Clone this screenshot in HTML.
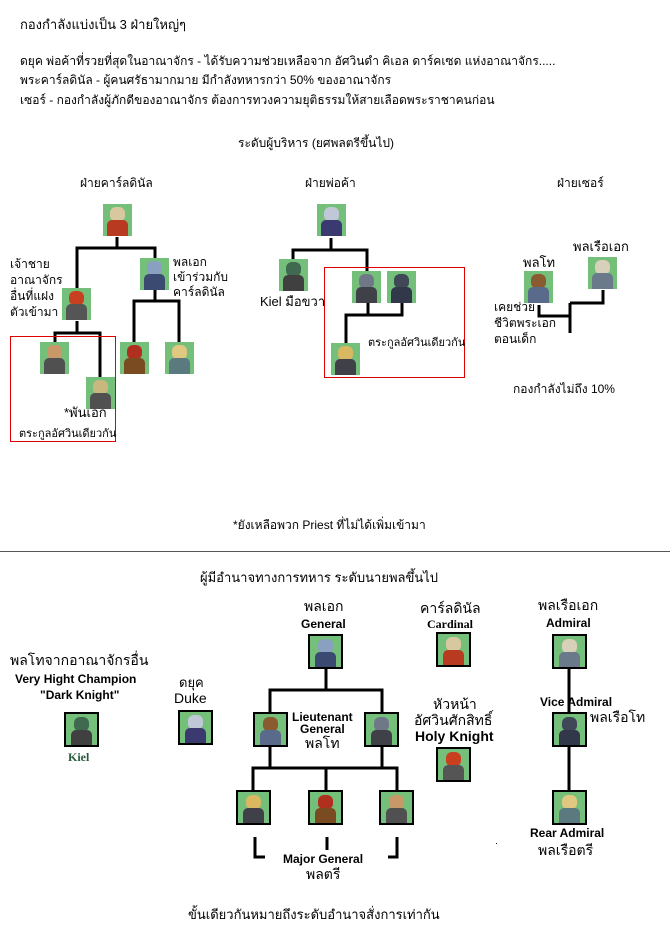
<!DOCTYPE html>
<html><head><meta charset="utf-8">
<style>
body{margin:0;width:670px;height:931px;background:#fff;position:relative;overflow:hidden;font-family:"Liberation Sans","DejaVu Sans",sans-serif;color:#000}
.t{position:absolute;white-space:nowrap;font-size:12px;line-height:15px}
.b{font-weight:bold}
.s{position:absolute;width:29px;height:32px;background:#74c07a;overflow:hidden}
.s:before{content:"";position:absolute;left:7px;top:3px;width:15px;height:14px;border-radius:6px 6px 5px 5px;background:var(--h,#c9a060)}
.s:after{content:"";position:absolute;left:4px;top:16px;width:21px;height:16px;border-radius:5px 5px 0 0;background:var(--c,#555)}
.f{width:31px;height:31px;border:2px solid #000}
.f:before{left:8px;top:3px}.f:after{left:5px;top:16px}
svg{position:absolute;left:0;top:0}
</style></head><body>
<svg width="670" height="931">
<g stroke="#000" stroke-width="3" fill="none">
<path d="M117 237V248M77 291V248H155V258M155 290V301M134 342V301H179V342M77 321V333M55 342V333H100V378"/>
<path d="M331 238V250M293 259V250H367V271M368 303V315M402 303V315H346V343"/>
<path d="M539 305V316H570M570 303V333M570 303H603V290"/>
<path d="M326 669V690M270 712V690H382V712M270 747V768M382 747V768M253 790V768H397V790M326 768V790M569 669V712M569 747V790"/>
<path d="M255 837V857H265M327 837V850M397 837V857H388"/>
</g>
<rect x="10.5" y="336.5" width="105" height="105" fill="none" stroke="#e00000" stroke-width="1"/>
<rect x="324.5" y="267.5" width="140" height="110" fill="none" stroke="#e00000" stroke-width="1"/>
<line x1="0" y1="551.5" x2="670" y2="551.5" stroke="#555" stroke-width="1"/>
<rect x="496" y="843" width="1" height="1" fill="#000"/>
</svg>

<div class="t" style="left:20px;top:17px;font-size:13px">กองกำลังแบ่งเป็น 3 ฝ่ายใหญ่ๆ</div>
<div class="t" style="left:20px;top:54px">ดยุค พ่อค้าที่รวยที่สุดในอาณาจักร -  ได้รับความช่วยเหลือจาก อัศวินดำ คิเอล ดาร์คเซด แห่งอาณาจักร.....</div>
<div class="t" style="left:20px;top:73px">พระคาร์ลดินัล -  ผู้คนศรัธามากมาย มีกำลังทหารกว่า 50% ของอาณาจักร</div>
<div class="t" style="left:20px;top:93px">เซอร์ -  กองกำลังผู้ภักดีของอาณาจักร ต้องการทวงความยุติธรรมให้สายเลือดพระราชาคนก่อน</div>
<div class="t" style="left:238px;top:136px">ระดับผู้บริหาร (ยศพลตรีขึ้นไป)</div>
<div class="t" style="left:80px;top:176px">ฝ่ายคาร์ลดินัล</div>
<div class="t" style="left:305px;top:176px">ฝ่ายพ่อค้า</div>
<div class="t" style="left:557px;top:176px">ฝ่ายเซอร์</div>

<div class="s" style="left:103px;top:204px;--h:#d8c8a0;--c:#b83a20"></div>
<div class="t" style="left:10px;top:256px;font-size:12px;line-height:16px">เจ้าชาย<br>อาณาจักร<br>อื่นที่แฝง<br>ตัวเข้ามา</div>
<div class="s" style="left:62px;top:288px;--h:#c84020;--c:#555"></div>
<div class="s" style="left:140px;top:258px;--h:#8aa0c0;--c:#3a4a70"></div>
<div class="t" style="left:173px;top:255px;font-size:12px;line-height:15px">พลเอก<br>เข้าร่วมกับ<br>คาร์ลดินัล</div>
<div class="s" style="left:120px;top:342px;--h:#b03020;--c:#7a4a20"></div>
<div class="s" style="left:165px;top:342px;--h:#e0c880;--c:#5a7a80"></div>
<div class="s" style="left:40px;top:342px;--h:#c89868;--c:#505050"></div>
<div class="s" style="left:86px;top:377px;--h:#c8b880;--c:#505050"></div>
<div class="t" style="left:64px;top:405px;font-size:13px">*พันเอก</div>
<div class="t" style="left:19px;top:427px;font-size:11px">ตระกูลอัศวินเดียวกัน</div>

<div class="s" style="left:317px;top:204px;--h:#c0c8d8;--c:#3a3a70"></div>
<div class="s" style="left:279px;top:259px;--h:#406a50;--c:#404040"></div>
<div class="t" style="left:260px;top:294px;font-size:13px">Kiel มือขวา</div>
<div class="s" style="left:352px;top:271px;--h:#707888;--c:#404048"></div>
<div class="s" style="left:387px;top:271px;--h:#404858;--c:#30384a"></div>
<div class="s" style="left:331px;top:343px;--h:#d8b860;--c:#404048"></div>
<div class="t" style="left:368px;top:336px;font-size:11px">ตระกูลอัศวินเดียวกัน</div>

<div class="t" style="left:523px;top:255px;font-size:13px">พลโท</div>
<div class="s" style="left:524px;top:271px;--h:#8a5a30;--c:#5a6a8a"></div>
<div class="t" style="left:573px;top:239px;font-size:13px">พลเรือเอก</div>
<div class="s" style="left:588px;top:257px;--h:#d8d0b8;--c:#6a7a8a"></div>
<div class="t" style="left:494px;top:299px;font-size:12px;line-height:16px">เคยช่วย<br>ชีวิตพระเอก<br>ตอนเด็ก</div>
<div class="t" style="left:513px;top:382px">กองกำลังไม่ถึง 10%</div>

<div class="t" style="left:233px;top:518px">*ยังเหลือพวก Priest ที่ไม่ได้เพิ่มเข้ามา</div>
<div class="t" style="left:200px;top:570px;font-size:13px">ผู้มีอำนาจทางการทหาร ระดับนายพลขึ้นไป</div>

<div class="t" style="left:10px;top:653px;font-size:14px">พลโทจากอาณาจักรอื่น</div>
<div class="t b" style="left:15px;top:672px">Very Hight Champion</div>
<div class="t b" style="left:40px;top:688px">"Dark Knight"</div>
<div class="s f" style="left:64px;top:712px;--h:#406a50;--c:#404040"></div>
<div class="t b" style="left:68px;top:750px;font-family:'Liberation Serif',serif;color:#2a5a3a;font-size:12px">Kiel</div>
<div class="t" style="left:179px;top:675px;font-size:13px">ดยุค</div>
<div class="t" style="left:174px;top:691px;font-size:14px">Duke</div>
<div class="s f" style="left:178px;top:710px;--h:#c0c8d8;--c:#3a3a70"></div>

<div class="t" style="left:304px;top:599px;font-size:14px">พลเอก</div>
<div class="t b" style="left:301px;top:617px">General</div>
<div class="s f" style="left:308px;top:634px;--h:#8aa0c0;--c:#3a4a70"></div>
<div class="s f" style="left:253px;top:712px;--h:#8a5a30;--c:#5a6a8a"></div>
<div class="s f" style="left:364px;top:712px;--h:#707888;--c:#404048"></div>
<div class="t b" style="left:292px;top:710px">Lieutenant</div>
<div class="t b" style="left:300px;top:722px">General</div>
<div class="t" style="left:305px;top:736px;font-size:14px">พลโท</div>
<div class="s f" style="left:236px;top:790px;--h:#d8b860;--c:#404048"></div>
<div class="s f" style="left:308px;top:790px;--h:#b03020;--c:#7a4a20"></div>
<div class="s f" style="left:379px;top:790px;--h:#c89868;--c:#505050"></div>
<div class="t b" style="left:283px;top:852px">Major General</div>
<div class="t" style="left:306px;top:867px;font-size:14px">พลตรี</div>

<div class="t" style="left:420px;top:601px;font-size:14px">คาร์ลดินัล</div>
<div class="t b" style="left:427px;top:617px;font-family:'Liberation Serif',serif">Cardinal</div>
<div class="s f" style="left:436px;top:632px;--h:#d8c8a0;--c:#b83a20"></div>
<div class="t" style="left:433px;top:697px;font-size:14px">หัวหน้า</div>
<div class="t" style="left:414px;top:713px;font-size:14px">อัศวินศักสิทธิ์</div>
<div class="t b" style="left:415px;top:729px;font-size:14px">Holy Knight</div>
<div class="s f" style="left:436px;top:747px;--h:#c84020;--c:#555"></div>

<div class="t" style="left:538px;top:598px;font-size:14px">พลเรือเอก</div>
<div class="t b" style="left:546px;top:616px">Admiral</div>
<div class="s f" style="left:552px;top:634px;--h:#d8d0b8;--c:#6a7a8a"></div>
<div class="t b" style="left:540px;top:695px">Vice Admiral</div>
<div class="s f" style="left:552px;top:712px;--h:#404858;--c:#30384a"></div>
<div class="t" style="left:590px;top:710px;font-size:14px">พลเรือโท</div>
<div class="s f" style="left:552px;top:790px;--h:#e0c880;--c:#5a7a80"></div>
<div class="t b" style="left:530px;top:826px">Rear Admiral</div>
<div class="t" style="left:538px;top:843px;font-size:14px">พลเรือตรี</div>

<div class="t" style="left:188px;top:907px;font-size:13px">ขั้นเดียวกันหมายถึงระดับอำนาจสั่งการเท่ากัน</div>
</body></html>
